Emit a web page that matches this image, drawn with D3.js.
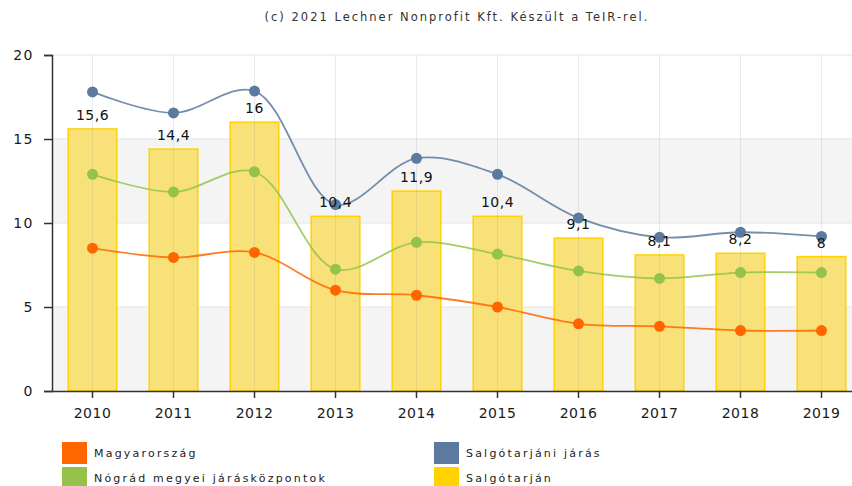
<!DOCTYPE html>
<meta charset="utf-8">
<style>
  body { margin: 0; background: #fff; }
  text { font-family: "DejaVu Sans", Verdana, sans-serif; }
  .line { fill: none; stroke-width: 1.8px; }
</style>
<body>
<script src="https://d3js.org/d3.v7.min.js"></script>
<script>
  // data
  var years = ["2010", "2011", "2012", "2013", "2014", "2015", "2016", "2017", "2018", "2019"];
  var salgotarjan = [15.6, 14.4, 16, 10.4, 11.9, 10.4, 9.1, 8.1, 8.2, 8];
  var salgotarjaniJaras = [17.8, 16.55, 17.85, 11.1, 13.85, 12.9, 10.3, 9.15, 9.45, 9.2];
  var nogradKozpontok = [12.9, 11.85, 13.05, 7.25, 8.85, 8.15, 7.15, 6.7, 7.05, 7.05];
  var magyarorszag = [8.5, 7.95, 8.25, 6.0, 5.7, 5.0, 4.0, 3.85, 3.6, 3.6];
  var yTicks = [0, 5, 10, 15, 20];

  var width = 852, height = 486;
  var plotL = 52, plotR = 862, plotT = 55, plotB = 391;

  var svg = d3.select("body").append("svg")
              .attr("width", width)
              .attr("height", height);

  var x = d3.scaleBand().domain(years).range([plotL, plotR]).padding(0);
  var cx = function (d) { return x(d) + x.bandwidth() / 2; };
  var y = d3.scaleLinear().domain([0, 20]).range([plotB, plotT]);

  // alternating background bands
  svg.selectAll(".band")
     .data([[0, 5], [10, 15]])
     .enter().append("rect")
     .attr("x", plotL)
     .attr("y", function (d) { return y(d[1]); })
     .attr("width", plotR - plotL)
     .attr("height", function (d) { return y(d[0]) - y(d[1]); })
     .attr("fill", "#f4f4f4");

  // horizontal grid
  svg.selectAll(".hgrid")
     .data(yTicks.slice(1))
     .enter().append("line")
     .attr("x1", plotL).attr("x2", plotR)
     .attr("y1", function (d) { return y(d); })
     .attr("y2", function (d) { return y(d); })
     .attr("stroke", "#e4e4e4");

  // bars (Salgótarján)
  var bw = x.bandwidth() * 0.6;
  svg.selectAll(".bar")
     .data(years)
     .enter().append("rect")
     .attr("x", function (d) { return cx(d) - bw / 2; })
     .attr("y", function (d, i) { return y(salgotarjan[i]); })
     .attr("width", bw)
     .attr("height", function (d, i) { return y(0) - y(salgotarjan[i]); })
     .attr("fill", "#f9e17a")
     .attr("stroke", "#ffd200")
     .attr("stroke-width", 1.5);

  // vertical grid (shows through the bars)
  svg.selectAll(".vgrid")
     .data(years)
     .enter().append("line")
     .attr("x1", cx).attr("x2", cx)
     .attr("y1", plotT).attr("y2", plotB)
     .attr("stroke", "#999")
     .attr("stroke-opacity", 0.2);

  // axes
  var yAxis = svg.append("g")
     .attr("transform", "translate(" + plotL + ",0)")
     .call(d3.axisLeft(y).tickValues(yTicks).tickSize(8).tickPadding(10));
  var xAxis = svg.append("g")
     .attr("transform", "translate(0," + plotB + ")")
     .call(d3.axisBottom(x).tickSize(7).tickPadding(10));
  xAxis.select(".domain").attr("d", "M" + plotL + ",0.5H" + plotR);
  [yAxis, xAxis].forEach(function (a) {
    a.selectAll("path, line").attr("stroke", "#333").attr("stroke-width", 1.5);
    a.selectAll("text").attr("font-size", 14).attr("fill", "#1a1a1a")
     .attr("font-family", "DejaVu Sans, sans-serif");
  });
  yAxis.selectAll("text").attr("letter-spacing", 1.5);
  xAxis.selectAll("text").attr("letter-spacing", 0.5);

  // spline series
  var series = [
    { values: salgotarjaniJaras, color: "#5c7aa0" },
    { values: nogradKozpontok, color: "#94c24a" },
    { values: magyarorszag, color: "#ff6600" }
  ];
  var line = d3.line()
               .x(function (d, i) { return cx(years[i]); })
               .y(function (d) { return y(d); })
               .curve(d3.curveCatmullRom.alpha(0.5));

  series.forEach(function (s) {
    svg.append("path")
       .datum(s.values)
       .attr("class", "line")
       .attr("stroke", s.color)
       .attr("stroke-opacity", 0.85)
       .attr("d", line);
    svg.selectAll(null)
       .data(s.values)
       .enter().append("circle")
       .attr("cx", function (d, i) { return cx(years[i]); })
       .attr("cy", function (d) { return y(d); })
       .attr("r", 5.5)
       .attr("fill", s.color);
  });

  // bar value labels
  svg.selectAll(".lbl")
     .data(salgotarjan)
     .enter().append("text")
     .attr("x", function (d, i) { return cx(years[i]); })
     .attr("y", function (d) { return y(d) - 9; })
     .attr("text-anchor", "middle")
     .attr("font-size", 14)
     .attr("letter-spacing", 0.5)
     .attr("fill", "#111")
     .text(function (d) { return String(d).replace(".", ","); });

  // source note
  svg.append("text")
     .attr("x", 457).attr("y", 21)
     .attr("text-anchor", "middle")
     .attr("font-size", 11.5)
     .attr("letter-spacing", 2)
     .attr("fill", "#333")
     .text("(c) 2021 Lechner Nonprofit Kft. Készült a TeIR-rel.");

  // legend
  var legend = [
    { name: "Magyarország", color: "#ff6600", x: 62, y: 442 },
    { name: "Salgótarjáni járás", color: "#5c7aa0", x: 434, y: 442 },
    { name: "Nógrád megyei járásközpontok", color: "#94c24a", x: 62, y: 467 },
    { name: "Salgótarján", color: "#ffd200", x: 434, y: 467 }
  ];
  var lg = svg.selectAll(".legend")
              .data(legend)
              .enter().append("g")
              .attr("transform", function (d) { return "translate(" + d.x + "," + d.y + ")"; });
  lg.append("rect")
    .attr("width", 25).attr("height", 22)
    .attr("fill", function (d) { return d.color; });
  lg.append("text")
    .attr("x", 32).attr("y", 15)
    .attr("font-size", 11)
    .attr("letter-spacing", 2.2)
    .attr("fill", "#222")
    .text(function (d) { return d.name; });
</script>
</body>
